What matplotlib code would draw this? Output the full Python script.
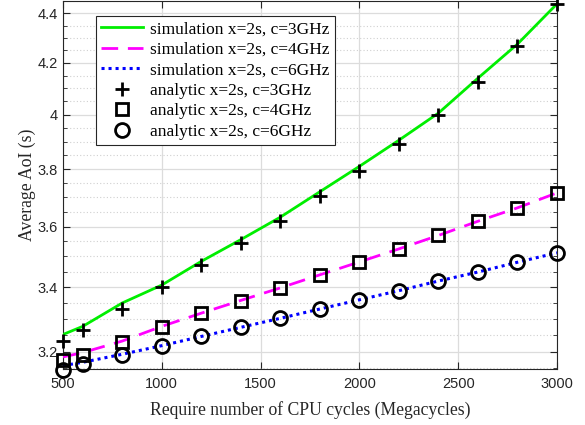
import matplotlib
matplotlib.use("Agg")
import matplotlib.pyplot as plt
from matplotlib.ticker import FixedLocator, FixedFormatter, NullFormatter
import numpy as np

cycles = [500, 600, 800, 1000, 1200, 1400, 1600, 1800, 2000, 2200, 2400, 2600, 2800, 3000]

sim_c3 = [3.252, 3.277, 3.350, 3.407, 3.484, 3.556, 3.632, 3.720, 3.810, 3.905, 4.006, 4.140, 4.275, 4.440]
sim_c4 = [3.184, 3.197, 3.232, 3.277, 3.318, 3.358, 3.398, 3.440, 3.482, 3.525, 3.570, 3.618, 3.664, 3.716]
sim_c6 = [3.158, 3.168, 3.192, 3.218, 3.246, 3.274, 3.302, 3.331, 3.360, 3.389, 3.420, 3.449, 3.481, 3.512]

ana_c3 = [3.231, 3.267, 3.331, 3.401, 3.471, 3.545, 3.620, 3.704, 3.795, 3.892, 3.999, 4.124, 4.267, 4.439]
ana_c4 = [3.174, 3.191, 3.229, 3.275, 3.320, 3.356, 3.397, 3.438, 3.482, 3.525, 3.570, 3.620, 3.664, 3.716]
ana_c6 = [3.146, 3.163, 3.191, 3.218, 3.246, 3.275, 3.302, 3.332, 3.360, 3.389, 3.420, 3.449, 3.482, 3.512]

xticks = [500, 1000, 1500, 2000, 2500, 3000]
yticks = [3.2, 3.4, 3.6, 3.8, 4.0, 4.2, 4.4]
ytick_labels = ["3.2", "3.4", "3.6", "3.8", "4", "4.2", "4.4"]
yminor = [3.15, 3.25, 3.3, 3.35, 3.45, 3.5, 3.55, 3.65, 3.7, 3.75, 3.85, 3.9, 3.95,
          4.05, 4.1, 4.15, 4.25, 4.3, 4.35, 4.45]

serif = ["Liberation Serif", "DejaVu Serif"]
sans = ["Liberation Sans", "DejaVu Sans"]

fig = plt.figure(figsize=(5.85, 4.25), dpi=100)
ax = fig.add_axes([63/585, 1-369/425, (557-63)/585, (369-1)/425])
ax.set_yscale("log")

ax.plot(cycles, sim_c3, color="#00ee00", lw=2.0, label="simulation x=2s, c=3GHz", zorder=3)
ax.plot(cycles, sim_c4, color="#ff00ff", lw=2.0, dashes=(6, 3.5), label="simulation x=2s, c=4GHz", zorder=3)
ax.plot(cycles, sim_c6, color="#0000ff", lw=2.2, dashes=(1.0, 1.3), label="simulation x=2s, c=6GHz", zorder=3)
ax.plot(cycles, ana_c3, ls="none", marker="+", ms=10, mew=2.0, color="black", label="analytic x=2s, c=3GHz", zorder=4, clip_on=False)
ax.plot(cycles, ana_c4, ls="none", marker="s", ms=8, mew=2.0, mfc="none", mec="black", label="analytic x=2s, c=4GHz", zorder=4, clip_on=False)
ax.plot(cycles, ana_c6, ls="none", marker="o", ms=10, mew=2.0, mfc="none", mec="black", label="analytic x=2s, c=6GHz", zorder=4, clip_on=False)

ax.set_xlim(500, 3000)
ax.set_ylim(3.148, 4.452)
ax.xaxis.set_major_locator(FixedLocator(xticks))
ax.yaxis.set_major_locator(FixedLocator(yticks))
ax.yaxis.set_major_formatter(FixedFormatter(ytick_labels))
ax.yaxis.set_minor_locator(FixedLocator(yminor))
ax.yaxis.set_minor_formatter(NullFormatter())

ax.grid(True, which="major", color="#dcdcdc", lw=0.9, ls="-")
ax.grid(True, which="minor", axis="y", color="#d0d0d0", lw=0.8, ls=(0, (1, 2)))
ax.set_axisbelow(True)

ax.tick_params(axis="both", which="both", direction="in", top=True, right=True,
               colors="#262626", labelsize=10.5)
ax.tick_params(which="major", length=5, width=0.8)
ax.tick_params(which="minor", length=3, width=0.6)
ax.tick_params(axis="x", pad=6)
for lab in ax.get_xticklabels() + ax.get_yticklabels():
    lab.set_family(sans)
for sp in ax.spines.values():
    sp.set_color("#262626")
    sp.set_linewidth(0.8)

ax.set_xlabel("Require number of CPU cycles (Megacycles)", family=serif, fontsize=12.7, color="#262626")
ax.set_ylabel("Average AoI (s)", family=serif, fontsize=12.7, color="#262626")
ax.xaxis.set_label_coords(0.5, -0.088)
ax.yaxis.set_label_coords(-0.055, 0.5)

leg = ax.legend(loc="upper left", bbox_to_anchor=(33/494, (369-16)/368), prop={"family": serif, "size": 12.5},
                frameon=True, fancybox=False, edgecolor="#262626", framealpha=1,
                handlelength=2.4, handletextpad=0.4, borderpad=0.3, labelspacing=0.25, borderaxespad=0)
leg.get_frame().set_linewidth(0.8)

fig.savefig("out.png", dpi=100)
